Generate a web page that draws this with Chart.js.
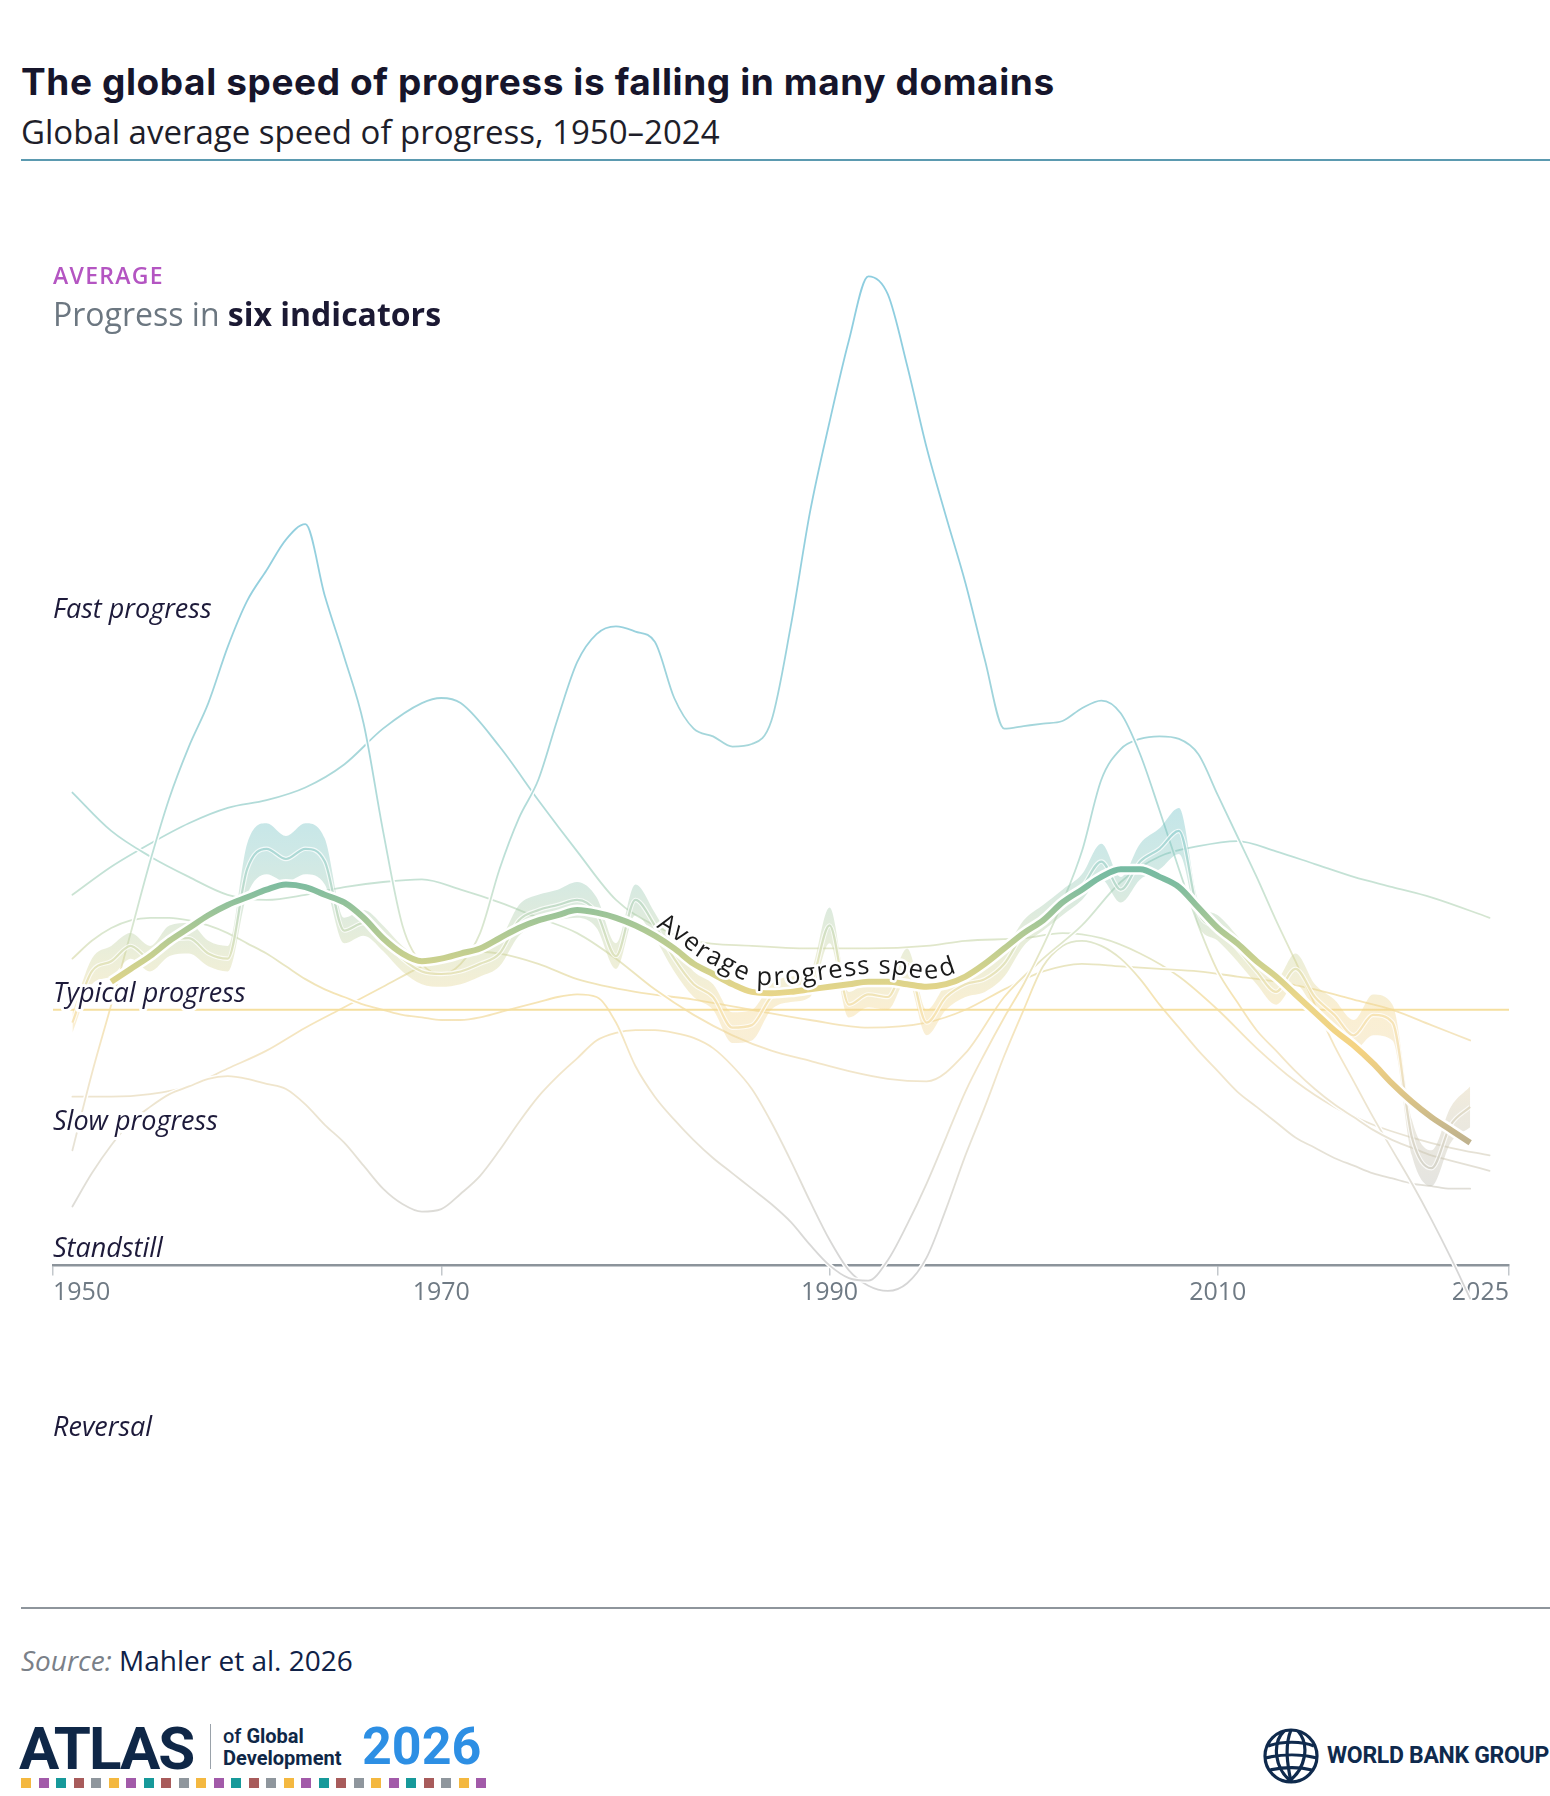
<!DOCTYPE html>
<html>
<head>
<meta charset="utf-8">
<script src="https://cdn.jsdelivr.net/npm/chart.js@4.4.1/dist/chart.umd.min.js"></script>
<style>
  html, body { margin: 0; padding: 0; background: #fff; }
  body { width: 1550px; height: 1796px; position: relative; overflow: hidden; font-family: 'Open Sans', sans-serif; }
  .abs { position: absolute; white-space: nowrap; }
  #title { left: 21px; top: 61px; font-family: Inter, sans-serif; font-weight: 700; font-size: 37px; line-height: 42px; color: #16152b; letter-spacing: 0.6px; }
  #subtitle { left: 21px; top: 112px; font-size: 33px; line-height: 40px; color: #1e1e2a; }
  #topRule { left: 21px; right: 0; top: 159px; height: 2px; background: #5b9ab0; }
  #kicker { left: 53px; top: 262px; font-size: 23px; line-height: 27px; font-weight: 600; color: #b455c2; letter-spacing: 1.3px; }
  #panelTitle { left: 53px; top: 295px; font-size: 32px; line-height: 38px; color: #6c7781; }
  #panelTitle b { color: #1b1933; font-weight: 700; }
  #bottomRule { left: 21px; right: 0; top: 1607px; height: 2px; background: #8e959c; }
  #source { left: 21px; top: 1643px; font-size: 28px; line-height: 34px; color: #0f2147; font-weight: 500; }
  #source i { color: #7a8088; font-weight: 400; }
  #atlas { left: 19px; top: 1719px; font-family: Roboto, sans-serif; font-weight: 700; font-size: 60px; line-height: 60px; color: #0f2747; letter-spacing: -2px; }
  #sep { left: 210px; top: 1724px; width: 1px; height: 45px; background: #9aa2aa; }
  .ofg { left: 223px; font-family: Roboto, sans-serif; font-size: 20px; line-height: 21px; color: #0f2747; font-weight: 500; }
  #year2026 { left: 362px; top: 1721px; font-family: Roboto, sans-serif; font-weight: 700; font-size: 52px; line-height: 52px; color: #2d8fe4; }
  #squares { left: 21px; top: 1778px; display: flex; gap: 7.5px; }
  #squares span { width: 10px; height: 10px; display: block; }
  #wbg { left: 1327px; top: 1741px; font-family: Roboto, sans-serif; font-weight: 700; font-size: 23px; line-height: 30px; color: #0f2a4d; letter-spacing: -0.3px; }
</style>
</head>
<body>
<canvas id="chart" width="1550" height="1430" style="position:absolute;left:0;top:170px"></canvas>

<div class="abs" id="title">The global speed of progress is falling in many domains</div>
<div class="abs" id="subtitle">Global average speed of progress, 1950–2024</div>
<div class="abs" id="topRule"></div>
<div class="abs" id="kicker">AVERAGE</div>
<div class="abs" id="panelTitle">Progress in <b>six indicators</b></div>
<div class="abs" id="bottomRule"></div>
<div class="abs" id="source"><i>Source:</i> Mahler et al. 2026</div>
<div class="abs" id="atlas">ATLAS</div>
<div class="abs" id="sep"></div>
<div class="abs ofg" style="top:1726px">of <b>Global</b></div>
<div class="abs ofg" style="top:1748px"><b>Development</b></div>
<div class="abs" id="year2026">2026</div>
<div class="abs" id="squares"></div>
<svg class="abs" style="left:1262px;top:1727px" width="58" height="58" viewBox="0 0 58 58">
  <g fill="none" stroke="#0f2a4d" stroke-width="3.2">
    <circle cx="29" cy="29" r="26"/>
    <path d="M22 4 C 10 16, 12 42, 30 55"/>
    <path d="M36 4 C 48 18, 44 42, 26 55"/>
    <path d="M29 3 C 22 20, 26 40, 29 55"/>
    <path d="M6 19 C 20 14, 40 14, 52 19"/>
    <path d="M3 31 C 20 27, 40 27, 55 31"/>
    <path d="M8 43 C 22 40, 38 40, 50 43"/>
  </g>
</svg>
<div class="abs" id="wbg">WORLD BANK GROUP</div>

<script>
// x axis
const tickYears = [1950, 1970, 1990, 2010, 2025];

// named speed levels on the y axis (typical progress = 1, standstill = 0)
const levelNames = ['Fast progress', 'Typical progress', 'Slow progress', 'Standstill', 'Reversal'];
const levelValues = [2.5, 1, 0.5, 0, -0.7];

// six indicators, each one line
const lineA = [0.45, 0.75, 1.02, 1.3, 1.58, 1.83, 2.03, 2.2, 2.42, 2.6,
  2.72, 2.84, 2.9, 2.62, 2.38, 2.12, 1.7, 1.33, 1.18, 1.14,
  1.18, 1.3, 1.55, 1.75, 1.9, 2.14, 2.36, 2.47, 2.5, 2.48,
  2.44, 2.22, 2.1, 2.07, 2.03, 2.04, 2.13, 2.5, 2.95, 3.3,
  3.62, 3.87, 3.8, 3.52, 3.2, 2.93, 2.67, 2.37, 2.1, 2.11,
  2.12, 2.13, 2.18, 2.21, 2.16, 2.0, 1.78, 1.55, 1.33, 1.15,
  1.03, 0.92, 0.84, 0.76, 0.69, 0.63, 0.58, 0.53, 0.49, 0.46,
  0.43, 0.41, 0.39, 0.37];
const lineAStart = 1951;

const lineBYears = [1951, 1953, 1955, 1957, 1959, 1961, 1963, 1965, 1967, 1969, 1970, 1971, 1973, 1975, 1977, 1979,
  1981, 1983, 1986, 1989, 1992, 1995, 1997, 2000, 2002, 2004, 2006, 2008, 2010, 2012, 2014, 2016, 2018, 2020, 2022, 2024];
const lineB = [1.45, 1.56, 1.65, 1.73, 1.79, 1.82, 1.87, 1.96, 2.1, 2.2, 2.22, 2.2, 2.03, 1.82, 1.62, 1.43,
  1.33, 1.27, 1.25, 1.24, 1.24, 1.25, 1.27, 1.28, 1.3, 1.28, 1.22, 1.13, 1.0, 0.85, 0.72, 0.62, 0.55, 0.5, 0.46, 0.43];

const lineCYears = [1951, 1953, 1955, 1957, 1959, 1961, 1963, 1965, 1967, 1969, 1971, 1973, 1975, 1977, 1979, 1981,
  1983, 1985, 1987, 1989, 1991, 1993, 1995, 1997, 1999, 2001, 2003, 2005, 2007, 2009, 2011, 2013, 2015, 2017, 2019, 2021, 2024];
const lineC = [1.85, 1.7, 1.6, 1.52, 1.45, 1.43, 1.45, 1.48, 1.5, 1.51, 1.47, 1.42, 1.36, 1.3, 1.2, 1.08,
  0.98, 0.9, 0.84, 0.8, 0.76, 0.73, 0.72, 0.83, 1.05, 1.2, 1.33, 1.5, 1.6, 1.64, 1.66, 1.62, 1.57, 1.52, 1.48, 1.44, 1.36];

const lineD = [1.2, 1.27, 1.32, 1.35, 1.36, 1.36, 1.35, 1.33, 1.3, 1.26,
  1.22, 1.17, 1.12, 1.08, 1.05, 1.02, 1.0, 0.98, 0.97, 0.96,
  0.96, 0.97, 0.99, 1.01, 1.03, 1.05, 1.06, 1.05, 0.95, 0.78,
  0.66, 0.57, 0.49, 0.42, 0.36, 0.3, 0.24, 0.17, 0.08, 0.0,
  -0.05, -0.06, 0.02, 0.16, 0.32, 0.5, 0.68, 0.83, 0.97, 1.1,
  1.25, 1.42, 1.62, 1.9, 2.02, 2.06, 2.07, 2.06, 2.0, 1.84,
  1.68, 1.52, 1.35, 1.19, 1.02, 0.86, 0.72, 0.58, 0.45, 0.32,
  0.18, 0.03, -0.13];
const lineDStart = 1951;

const lineE = [0.23, 0.36, 0.47, 0.56, 0.62, 0.67, 0.7, 0.73, 0.74, 0.73,
  0.71, 0.69, 0.63, 0.55, 0.48, 0.39, 0.3, 0.24, 0.21, 0.22,
  0.28, 0.35, 0.45, 0.56, 0.66, 0.74, 0.81, 0.88, 0.91, 0.92,
  0.92, 0.91, 0.89, 0.85, 0.78, 0.69, 0.56, 0.41, 0.25, 0.1,
  -0.02, -0.08, -0.1, -0.07, 0.03, 0.22, 0.43, 0.62, 0.82, 1.0,
  1.17, 1.25, 1.27, 1.25, 1.2, 1.12, 1.02, 0.93, 0.84, 0.76,
  0.68, 0.62, 0.56, 0.5, 0.46, 0.42, 0.39, 0.36, 0.34, 0.32,
  0.31, 0.3, 0.3];
const lineEStart = 1951;

const lineFYears = [1951, 1953, 1955, 1957, 1959, 1961, 1963, 1965, 1967, 1969, 1971, 1973, 1975, 1977, 1980, 1983, 1986,
  1989, 1992, 1995, 1997, 1999, 2001, 2003, 2005, 2007, 2009, 2011, 2013, 2015, 2017, 2019, 2021, 2023];
const lineF = [0.66, 0.66, 0.67, 0.7, 0.77, 0.84, 0.93, 1.01, 1.09, 1.17, 1.23, 1.22, 1.18, 1.12, 1.07, 1.04, 1.0,
  0.96, 0.93, 0.95, 1.0, 1.08, 1.15, 1.18, 1.17, 1.16, 1.15, 1.13, 1.11, 1.08, 1.04, 1.0, 0.94, 0.88];

// yearly average of the six (wiggly, with its spread band)
const yearlyMid = [0.95, 1.15, 1.19, 1.25, 1.2, 1.27, 1.28, 1.22, 1.2,
  1.55, 1.63, 1.59, 1.63, 1.58,
  1.31, 1.34, 1.28, 1.2, 1.15, 1.14, 1.15, 1.18, 1.22,
  1.35, 1.39, 1.41, 1.43, 1.38, 1.21, 1.43, 1.33,
  1.2, 1.1, 1.05, 0.93, 0.94, 1.05, 1.08, 1.1,
  1.33, 1.02, 1.06, 1.05, 1.18, 0.95, 1.05, 1.1, 1.12, 1.18,
  1.3, 1.36, 1.42, 1.48, 1.58, 1.47, 1.58, 1.63, 1.7, 1.38,
  1.32, 1.24, 1.15, 1.07, 1.16, 1.05, 0.98, 0.9, 0.98, 0.95,
  0.5, 0.38, 0.55, 0.62];
const yearlySpread = [0.04, 0.05, 0.06, 0.05, 0.05, 0.06, 0.06, 0.05, 0.05,
  0.1, 0.1, 0.09, 0.1, 0.09,
  0.05, 0.05, 0.05, 0.05, 0.05, 0.05, 0.05, 0.05, 0.05,
  0.06, 0.06, 0.06, 0.07, 0.06, 0.05, 0.06, 0.05,
  0.05, 0.05, 0.05, 0.06, 0.06, 0.05, 0.05, 0.05,
  0.07, 0.05, 0.05, 0.05, 0.06, 0.05, 0.05, 0.05, 0.05, 0.05,
  0.05, 0.05, 0.05, 0.05, 0.07, 0.05, 0.07, 0.08, 0.09, 0.05,
  0.05, 0.05, 0.05, 0.05, 0.06, 0.05, 0.06, 0.06, 0.08, 0.07,
  0.07, 0.07, 0.07, 0.08];
const yearlyStart = 1951;

// smoothed average progress speed
const avgSpeed = [1.11, 1.16, 1.21, 1.27, 1.32, 1.37, 1.41, 1.44, 1.47, 1.49,
  1.48, 1.45, 1.42, 1.36, 1.28, 1.22, 1.19, 1.2, 1.22, 1.24,
  1.28, 1.32, 1.35, 1.37, 1.39, 1.38, 1.36, 1.33, 1.29, 1.24,
  1.18, 1.14, 1.1, 1.07, 1.065, 1.07, 1.08, 1.09, 1.1, 1.11,
  1.11, 1.1, 1.09, 1.1, 1.13, 1.18, 1.24, 1.3, 1.35, 1.42,
  1.47, 1.52, 1.55, 1.55, 1.52, 1.48, 1.4, 1.32, 1.26, 1.19,
  1.13, 1.06, 0.99, 0.92, 0.86, 0.79, 0.71, 0.64, 0.58, 0.53, 0.48];
const avgStart = 1953;
const avgLabel = 'Average progress speed';
const avgLabelStart = 1981.2;

// colour ramps by speed value
const thinStops = [[4.2, '#8ccde0'], [2.6, '#95d0de'], [2.0, '#a7d7da'], [1.6, '#bde0d7'], [1.3, '#dbe7cf'],
  [1.05, '#f6e4b4'], [0.8, '#f3e6c8'], [0.5, '#e8e3d5'], [0.2, '#dcdbd7'], [0, '#d6d6d6'], [-1.2, '#d0d0d0']];
const bandStops = [[4.2, '#62bcc4'], [1.8, '#62bcc4'], [1.6, '#80c4bd'], [1.4, '#a4c9a9'], [1.2, '#cfd49a'],
  [1.0, '#f3d58a'], [0.8, '#ecd39a'], [0.6, '#cfc6aa'], [0.3, '#b9b8ae'], [-1.2, '#b0b0b0']];
const avgStops = [[4.2, '#63b6a6'], [1.7, '#63b6a6'], [1.5, '#7dbca0'], [1.35, '#a3c697'], [1.2, '#c9d08e'],
  [1.05, '#ead689'], [0.85, '#f5d382'], [0.7, '#e2c886'], [0.55, '#c9b98c'], [0.4, '#b5aa90'], [-1.2, '#b0a892']];

const squareColors = ['#f4b840', '#a25aa9', '#17999a', '#a85b5b', '#8f969d'];

// ---------------------------------------------------------------
const sq = document.getElementById('squares');
for (let i = 0; i < 27; i++) {
  const s = document.createElement('span');
  s.style.background = squareColors[i % squareColors.length];
  sq.appendChild(s);
}

function yearsFrom(start, n) {
  return Array.from({ length: n }, (_, i) => start + i);
}
function pairs(years, values) {
  return years.map((yr, i) => ({ x: yr, y: values[i] }));
}
function rgba(hex, a) {
  const n = parseInt(hex.slice(1), 16);
  return `rgba(${(n >> 16) & 255}, ${(n >> 8) & 255}, ${n & 255}, ${a})`;
}
function gradientOf(chart, stops, alpha) {
  const y = chart.scales.y;
  if (!chart.chartArea || !y) return 'rgba(0,0,0,0)';
  const top = y.getPixelForValue(y.max);
  const bottom = y.getPixelForValue(y.min);
  const g = chart.ctx.createLinearGradient(0, top, 0, bottom);
  stops.forEach(([v, c]) => {
    const off = Math.min(1, Math.max(0, (y.getPixelForValue(v) - top) / (bottom - top)));
    g.addColorStop(off, rgba(c, alpha));
  });
  return g;
}

const common = {
  pointRadius: 0,
  pointHoverRadius: 0,
  cubicInterpolationMode: 'monotone',
  fill: false
};

const thinLines = [
  pairs(lineBYears, lineB),
  pairs(lineFYears, lineF),
  pairs(yearsFrom(lineEStart, lineE.length), lineE),
  pairs(lineCYears, lineC),
  pairs(yearsFrom(lineDStart, lineD.length), lineD),
  pairs(yearsFrom(lineAStart, lineA.length), lineA)
];

const datasets = [];
thinLines.forEach(data => {
  datasets.push({ ...common, data, borderColor: '#ffffff', borderWidth: 4.5, borderCapStyle: 'round' });
  datasets.push({ ...common, data, borderColor: c => gradientOf(c.chart, thinStops, 1), borderWidth: 1.8, borderCapStyle: 'round' });
});

datasets.push({ ...common, data: [{ x: 1950, y: levelValues[1] }, { x: 2025, y: levelValues[1] }],
  borderColor: '#f5df9f', borderWidth: 2, cubicInterpolationMode: 'default', tension: 0 });

const yearlyYears = yearsFrom(yearlyStart, yearlyMid.length);
datasets.push({ ...common, data: yearlyYears.map((yr, i) => ({ x: yr, y: yearlyMid[i] + yearlySpread[i] })),
  borderWidth: 0, borderColor: 'rgba(0,0,0,0)', fill: '+1',
  backgroundColor: c => gradientOf(c.chart, bandStops, 0.38) });
datasets.push({ ...common, data: yearlyYears.map((yr, i) => ({ x: yr, y: yearlyMid[i] - yearlySpread[i] })),
  borderWidth: 0, borderColor: 'rgba(0,0,0,0)' });
datasets.push({ ...common, data: pairs(yearlyYears, yearlyMid), borderColor: 'rgba(255,255,255,0.75)', borderWidth: 4.5 });
datasets.push({ ...common, data: pairs(yearlyYears, yearlyMid), borderColor: c => gradientOf(c.chart, bandStops, 0.6), borderWidth: 2.2 });

const avgData = pairs(yearsFrom(avgStart, avgSpeed.length), avgSpeed);
datasets.push({ ...common, data: avgData, borderColor: '#ffffff', borderWidth: 11, borderCapStyle: 'butt' });
datasets.push({ ...common, id: 'avg', data: avgData, borderColor: c => gradientOf(c.chart, avgStops, 1), borderWidth: 6, borderCapStyle: 'butt' });

// first pushed is drawn at the back
datasets.forEach((d, i) => { d.order = datasets.length - i; });

const levelLabels = {
  id: 'levelLabels',
  afterDatasetsDraw(chart) {
    const { ctx, scales: { x, y } } = chart;
    ctx.save();
    ctx.font = 'italic 27px "Open Sans"';
    ctx.textBaseline = 'alphabetic';
    ctx.textAlign = 'left';
    ctx.lineJoin = 'round';
    levelNames.forEach((name, i) => {
      const py = y.getPixelForValue(levelValues[i]) - 8;
      ctx.strokeStyle = '#ffffff';
      ctx.lineWidth = 6;
      ctx.strokeText(name, x.left, py);
      ctx.fillStyle = '#1d1a3a';
      ctx.fillText(name, x.left, py);
    });
    ctx.restore();
  }
};

// writes the label along the smoothed average line, on a path shifted above it
const curvedLabel = {
  id: 'curvedLabel',
  afterDatasetsDraw(chart) {
    const idx = chart.data.datasets.findIndex(d => d.id === 'avg');
    const pts = chart.getDatasetMeta(idx).data;
    const base = [];
    for (let i = 0; i < pts.length - 1; i++) {
      const a = pts[i], b = pts[i + 1];
      const c1x = a.cp2x ?? a.x, c1y = a.cp2y ?? a.y, c2x = b.cp1x ?? b.x, c2y = b.cp1y ?? b.y;
      for (let k = 0; k < 24; k++) {
        const t = k / 24, u = 1 - t;
        base.push({
          x: u * u * u * a.x + 3 * u * u * t * c1x + 3 * u * t * t * c2x + t * t * t * b.x,
          y: u * u * u * a.y + 3 * u * u * t * c1y + 3 * u * t * t * c2y + t * t * t * b.y
        });
      }
    }
    base.push({ x: pts[pts.length - 1].x, y: pts[pts.length - 1].y });

    // middle of the letters sits this far above the line centre
    const lift = 15;
    const path = base.map((p, i) => {
      const q0 = base[Math.max(0, i - 3)], q1 = base[Math.min(base.length - 1, i + 3)];
      const tx = q1.x - q0.x, ty = q1.y - q0.y, tl = Math.hypot(tx, ty) || 1;
      return { x: p.x + (ty / tl) * lift, y: p.y - (tx / tl) * lift };
    });

    const len = [0];
    for (let i = 1; i < path.length; i++) {
      len.push(len[i - 1] + Math.hypot(path[i].x - path[i - 1].x, path[i].y - path[i - 1].y));
    }
    const at = s => {
      let i = 1;
      while (i < len.length - 1 && len[i] < s) i++;
      const f = (s - len[i - 1]) / ((len[i] - len[i - 1]) || 1);
      return { x: path[i - 1].x + f * (path[i].x - path[i - 1].x), y: path[i - 1].y + f * (path[i].y - path[i - 1].y) };
    };
    const x0 = chart.scales.x.getPixelForValue(avgLabelStart);
    let j = 0;
    while (j < path.length - 1 && path[j].x < x0) j++;
    let s = len[j];

    const { ctx } = chart;
    ctx.save();
    ctx.font = '25.5px "Open Sans"';
    ctx.textAlign = 'center';
    ctx.textBaseline = 'alphabetic';
    ctx.lineJoin = 'round';
    const glyphs = [];
    for (const ch of avgLabel) {
      const w = ctx.measureText(ch).width + 1.3;
      const p = at(s + w / 2);
      const p1 = at(s + w / 2 - 6), p2 = at(s + w / 2 + 6);
      glyphs.push({ ch, p, ang: Math.atan2(p2.y - p1.y, p2.x - p1.x) });
      s += w;
    }
    for (const pass of ['stroke', 'fill']) {
      glyphs.forEach(g => {
        ctx.save();
        ctx.translate(g.p.x, g.p.y);
        ctx.rotate(g.ang);
        if (pass === 'stroke') {
          ctx.strokeStyle = '#ffffff';
          ctx.lineWidth = 5;
          ctx.strokeText(g.ch, 0, lift - 8);
        } else {
          ctx.fillStyle = '#1a1a1a';
          ctx.fillText(g.ch, 0, lift - 8);
        }
        ctx.restore();
      });
    }
    ctx.restore();
  }
};

new Chart(document.getElementById('chart').getContext('2d'), {
  type: 'line',
  data: { datasets },
  options: {
    responsive: false,
    animation: false,
    devicePixelRatio: 1,
    events: [],
    layout: { padding: { left: 53, right: 41, top: 22, bottom: 28 } },
    scales: {
      x: {
        type: 'linear',
        min: 1950,
        max: 2025,
        position: { y: 0 },
        afterBuildTicks: scale => { scale.ticks = tickYears.map(v => ({ value: v })); },
        ticks: {
          align: 'inner',
          autoSkip: false,
          maxRotation: 0,
          padding: 4,
          color: '#6f7a84',
          font: { family: 'Open Sans', size: 25 },
          callback: v => String(v)
        },
        grid: { drawOnChartArea: false, drawTicks: true, tickLength: 9, color: '#c3c8cc', lineWidth: 1.5 },
        border: { display: true, color: '#8c949b', width: 2.5 }
      },
      y: { display: false, min: -1.2, max: 4.2 }
    },
    plugins: {
      legend: { display: false },
      tooltip: { enabled: false }
    }
  },
  plugins: [levelLabels, curvedLabel]
});
</script>
</body>
</html>
